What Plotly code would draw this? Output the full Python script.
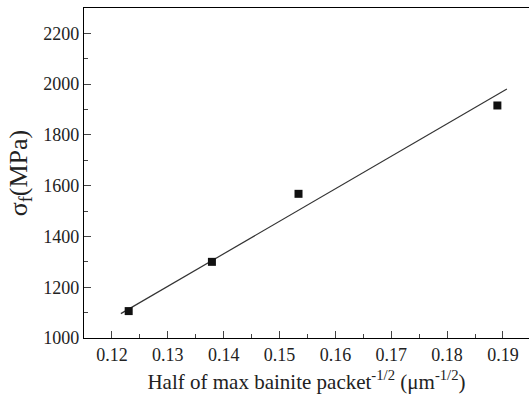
import plotly.graph_objects as go

# Data
packet_x = [0.1230, 0.1379, 0.1534, 0.1890]
sigma_f = [1106, 1300, 1568, 1916]

# Linear fit line (endpoints)
fit_x = [0.1216, 0.1907]
fit_y = [1096, 1981]

x_ticks = [0.12, 0.13, 0.14, 0.15, 0.16, 0.17, 0.18, 0.19]
y_ticks = [1000, 1200, 1400, 1600, 1800, 2000, 2200]

font_family = "Liberation Serif"

fig = go.Figure()
fig.add_trace(go.Scatter(x=fit_x, y=fit_y, mode="lines",
                         line=dict(color="#333333", width=1.2), showlegend=False))
fig.add_trace(go.Scatter(x=packet_x, y=sigma_f, mode="markers",
                         marker=dict(symbol="square", size=8, color="#111111"),
                         showlegend=False))

fig.update_layout(
    width=529, height=400,
    margin=dict(l=84, r=0, t=8, b=62),
    paper_bgcolor="white", plot_bgcolor="white",
    font=dict(family=font_family, size=18, color="#222222"),
    xaxis=dict(
        range=[0.115, 0.19466],
        tickvals=x_ticks, ticktext=[f"{v:.2f}" for v in x_ticks],
        ticks="inside", ticklen=7, tickcolor="#444444", tickwidth=1,
        minor=dict(ticks="inside", ticklen=4, dtick=0.005, tick0=0.115, tickcolor="#444444"),
        showline=True, linecolor="black", linewidth=1.3, mirror=True,
        showgrid=False, zeroline=False,
        tickfont=dict(size=18),
        title=dict(text="Half of max bainite packet<sup>-1/2</sup> (μm<sup>-1/2</sup>)",
                   font=dict(size=21), standoff=10),
    ),
    yaxis=dict(
        range=[1000, 2300],
        tickvals=y_ticks,
        ticks="inside", ticklen=7, tickcolor="#444444", tickwidth=1,
        minor=dict(ticks="inside", ticklen=4, dtick=100, tickcolor="#444444"),
        showline=True, linecolor="black", linewidth=1.3, mirror=False,
        showgrid=False, zeroline=False,
        tickfont=dict(size=18),
        title=dict(text="σ<sub>f</sub>(MPa)", font=dict(size=26), standoff=8),
    ),
)

fig.write_html("out.html")
